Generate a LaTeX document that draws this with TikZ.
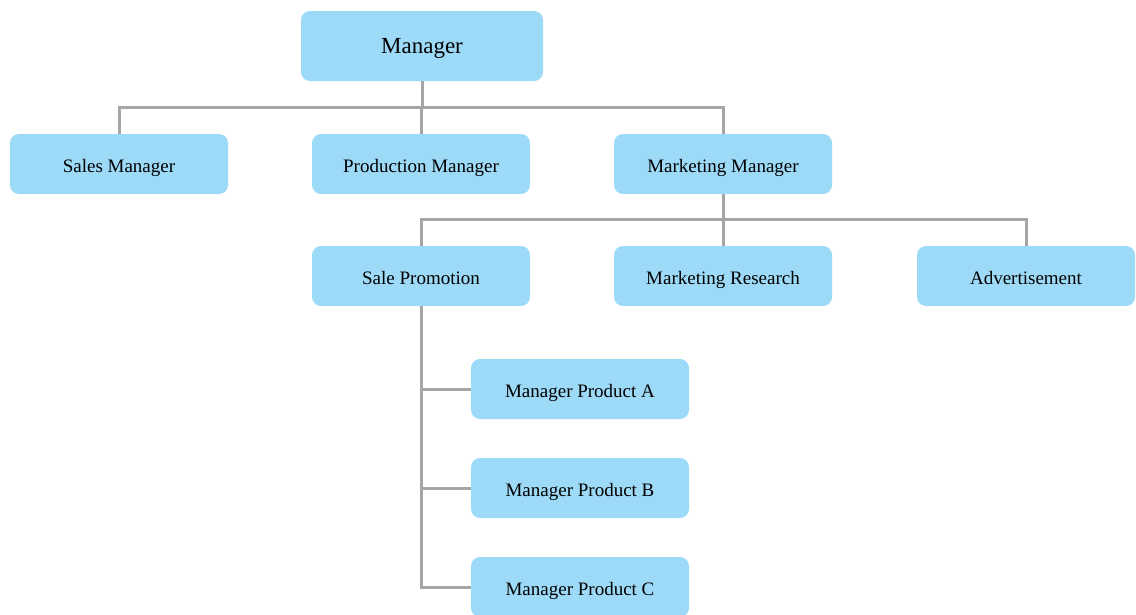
\documentclass[tikz,border=0pt]{standalone}
\usepackage{fontspec}
\setmainfont{Liberation Serif}
\definecolor{boxblue}{HTML}{9DDAF8}
\definecolor{linegray}{HTML}{A6A6A6}
\tikzset{
  unit/.style={fill=boxblue, rounded corners=9pt, minimum width=218pt,
    minimum height=60pt, inner sep=0pt, text height=16pt, text depth=0pt,
    font=\fontsize{19}{22}\selectfont},
  head/.style={unit, minimum width=242pt, minimum height=70pt,
    text height=15pt, font=\fontsize{23}{26}\selectfont},
  link/.style={draw=linegray, line width=3pt}
}
\begin{document}
\begin{tikzpicture}[x=1pt,y=-1pt]
            \useasboundingbox (0,0) rectangle (1136,614);
            \node [head] (mgr) at (422,46) {Manager};
            \node [unit] (sales) at (119,164) {Sales Manager};
            \node [unit] (prod) at (421,164) {Production Manager};
            \node [unit] (mkt) at (723,164) {Marketing Manager};
            \node [unit] (promo) at (421,276) {Sale Promotion};
            \node [unit] (research) at (723,276) {Marketing Research};
            \node [unit] (advert) at (1026,276) {Advertisement};
            \node [unit] (prodA) at (580,389) {Manager Product A};
            \node [unit] (prodB) at (580,488) {Manager Product B};
            \node [unit] (prodC) at (580,587) {Manager Product C};
            \coordinate (top) at (422,107);
            \coordinate (mid) at (723,219);
            \draw [link] (mgr.south) -- (top);
            \draw [link] (top) -| (sales.north);
            \draw [link] (top) -| (prod.north);
            \draw [link] (top) -| (mkt.north);
            \draw [link] (mkt.south) -- (mid);
            \draw [link] (mid) -| (promo.north);
            \draw [link] (mid) -| (research.north);
            \draw [link] (mid) -| (advert.north);
            \draw [link] (promo.south) |- (prodA.west);
            \draw [link] (promo.south) |- (prodB.west);
            \draw [link] (promo.south) |- (prodC.west);
        \end{tikzpicture}
\end{document}
